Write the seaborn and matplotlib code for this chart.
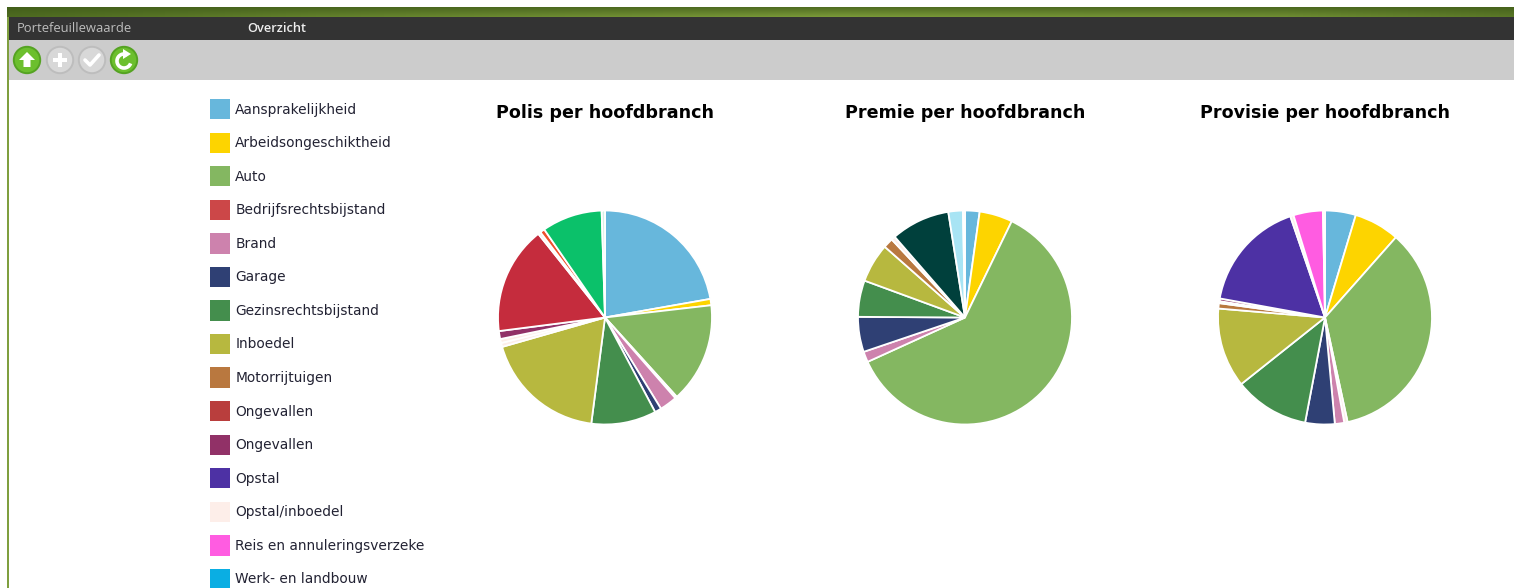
import numpy as np
import matplotlib
matplotlib.use("Agg")
import matplotlib.pyplot as plt
from matplotlib.patches import Rectangle, Circle, Patch, Polygon, Arc
import seaborn as sns

# Legend (the list runs off the bottom of the screenshot)
categories = ["Aansprakelijkheid", "Arbeidsongeschiktheid", "Auto", "Bedrijfsrechtsbijstand",
              "Brand", "Garage", "Gezinsrechtsbijstand", "Inboedel", "Motorrijtuigen",
              "Ongevallen", "Ongevallen", "Opstal", "Opstal/inboedel",
              "Reis en annuleringsverzeke", "Werk- en landbouw"]
legend_colors = ["#67B7DC", "#FDD400", "#84B761", "#CC4748", "#CD82AD", "#2F4074", "#448E4D",
                 "#B7B83F", "#B9783F", "#B93E3D", "#913167", "#4D31A4", "#FDEEE9", "#FF5CE1",
                 "#0AAEE3"]

# Slices in drawing order, clockwise from the top, shares in percent
polis_colors = ["#67B7DC", "#FDD400", "#84B761", "#FDEEE9", "#CD82AD", "#2F4074", "#448E4D",
                "#B7B83F", "#FDEEE9", "#FDEEE9", "#913167", "#C52C3D", "#FDEEE9", "#F0502D",
                "#0BC16A", "#D8EFE6"]
polis_values = [22.2, 0.95, 15.1, 0.3, 2.65, 1.0, 9.8, 18.5, 0.6, 0.6, 1.2, 16.3, 0.4, 0.7, 9.1, 0.5]

premie_colors = ["#67B7DC", "#FDD400", "#84B761", "#CD82AD", "#2F4074", "#448E4D", "#B7B83F",
                 "#B9783F", "#FDEEE9", "#00403C", "#A8E4F4", "#FDEEE9"]
premie_values = [2.2, 5.0, 61.0, 1.6, 5.3, 5.5, 5.9, 1.5, 0.6, 8.9, 2.2, 0.3]

provisie_colors = ["#67B7DC", "#FDD400", "#84B761", "#FDEEE9", "#CD82AD", "#2F4074", "#448E4D",
                   "#B7B83F", "#B9783F", "#FDEEE9", "#913167", "#4D31A4", "#FDEEE9", "#FF5CE1",
                   "#FDEEE9"]
provisie_values = [4.6, 6.8, 34.7, 0.5, 1.4, 4.4, 11.2, 11.9, 0.8, 0.3, 0.4, 16.7, 0.5, 4.4, 0.3]

titles = ["Polis per hoofdbranch", "Premie per hoofdbranch", "Provisie per hoofdbranch"]
menu_left = "Portefeuillewaarde"
menu_right = "Overzicht"

W, H = 1518, 588
sns.set_theme(style="white")
plt.rcParams["font.family"] = ["DejaVu Sans"]
fig = plt.figure(figsize=(W / 100, H / 100), dpi=100, facecolor="white")

# page chrome, in pixels
bg = fig.add_axes([0, 0, 1, 1])
bg.axis("off")
across = np.interp(np.linspace(0, 1, 200), [0, 0.2, 0.55, 0.85, 1], [0.2, 0.45, 0.75, 0.6, 0.35])
down = np.linspace(0.35, 1.1, 10)
cmap = matplotlib.colors.LinearSegmentedColormap.from_list("top", ["#3E5A18", "#86A63F"])
bg.imshow(np.outer(down, across), cmap=cmap, extent=(7, 1514, 17, 7), aspect="auto", vmin=0, vmax=1)
bg.set_xlim(0, W)
bg.set_ylim(H, 0)
bg.add_patch(Rectangle((7, 17), 1507, 23, color="#333333", lw=0))
bg.add_patch(Rectangle((7, 40), 1507, 40, color="#CCCCCC", lw=0))
bg.add_patch(Rectangle((7, 17), 2, H, color="#7F9F3F", lw=0))
bg.text(17, 29, menu_left, color="#BDBDBD", fontsize=9.4, family="Open Sans", va="center")
bg.text(247, 29, menu_right, color="#EEEEEE", fontsize=9.2, family="Open Sans", va="center", fontweight="semibold")

# toolbar buttons
for x, col, edge in [(27, "#6CBF2E", "#55A322"), (60, "#D8D8D8", "#BDBDBD"),
                     (92, "#D8D8D8", "#BDBDBD"), (124, "#6CBF2E", "#55A322")]:
    bg.add_patch(Circle((x, 60), 13.2, facecolor=col, edgecolor=edge, lw=1.4))
bg.add_patch(Polygon([(27, 52), (35, 60), (30.5, 60), (30.5, 67), (23.5, 67), (23.5, 60), (19, 60)],
                     color="white", lw=0))
bg.add_patch(Rectangle((58.3, 53), 3.4, 14, color="white", lw=0))
bg.add_patch(Rectangle((53, 58.3), 14, 3.4, color="white", lw=0))
bg.plot([85, 90, 99], [60, 65, 55], color="white", lw=2.6, solid_capstyle="round")
bg.add_patch(Arc((124, 61), 14, 14, theta1=20, theta2=300, color="white", lw=2.6))
bg.add_patch(Polygon([(123, 49), (131, 54), (123, 59)], color="white", lw=0))

# legend
handles = [Patch(facecolor=c, edgecolor="none") for c in legend_colors]
leg = fig.legend(handles, categories, loc="upper left", bbox_to_anchor=(210 / W, 1 - 99 / H),
                 frameon=False, fontsize=9.9, borderpad=0, borderaxespad=0, handlelength=1.45,
                 handleheight=1.9, handletextpad=0.38, labelspacing=0.96)
for t in leg.get_texts():
    t.set_color("#222233")

# pies
centers = [605, 965, 1325]
radius = 107
all_values = [polis_values, premie_values, provisie_values]
all_colors = [polis_colors, premie_colors, provisie_colors]
for cx, vals, cols, title in zip(centers, all_values, all_colors, titles):
    size = 2 * radius
    ax = fig.add_axes([(cx - radius) / W, 1 - (317.5 + radius) / H, size / W, size / H])
    ax.pie(vals, colors=sns.color_palette(cols), startangle=90, counterclock=False, radius=1,
           wedgeprops={"edgecolor": "white", "linewidth": 1.3})
    ax.set_xlim(-1, 1)
    ax.set_ylim(-1, 1)
    bg.text(cx, 113, title, color="black", fontsize=12.6, fontweight="bold", ha="center", va="center")

fig.savefig("out.png", dpi=100)
